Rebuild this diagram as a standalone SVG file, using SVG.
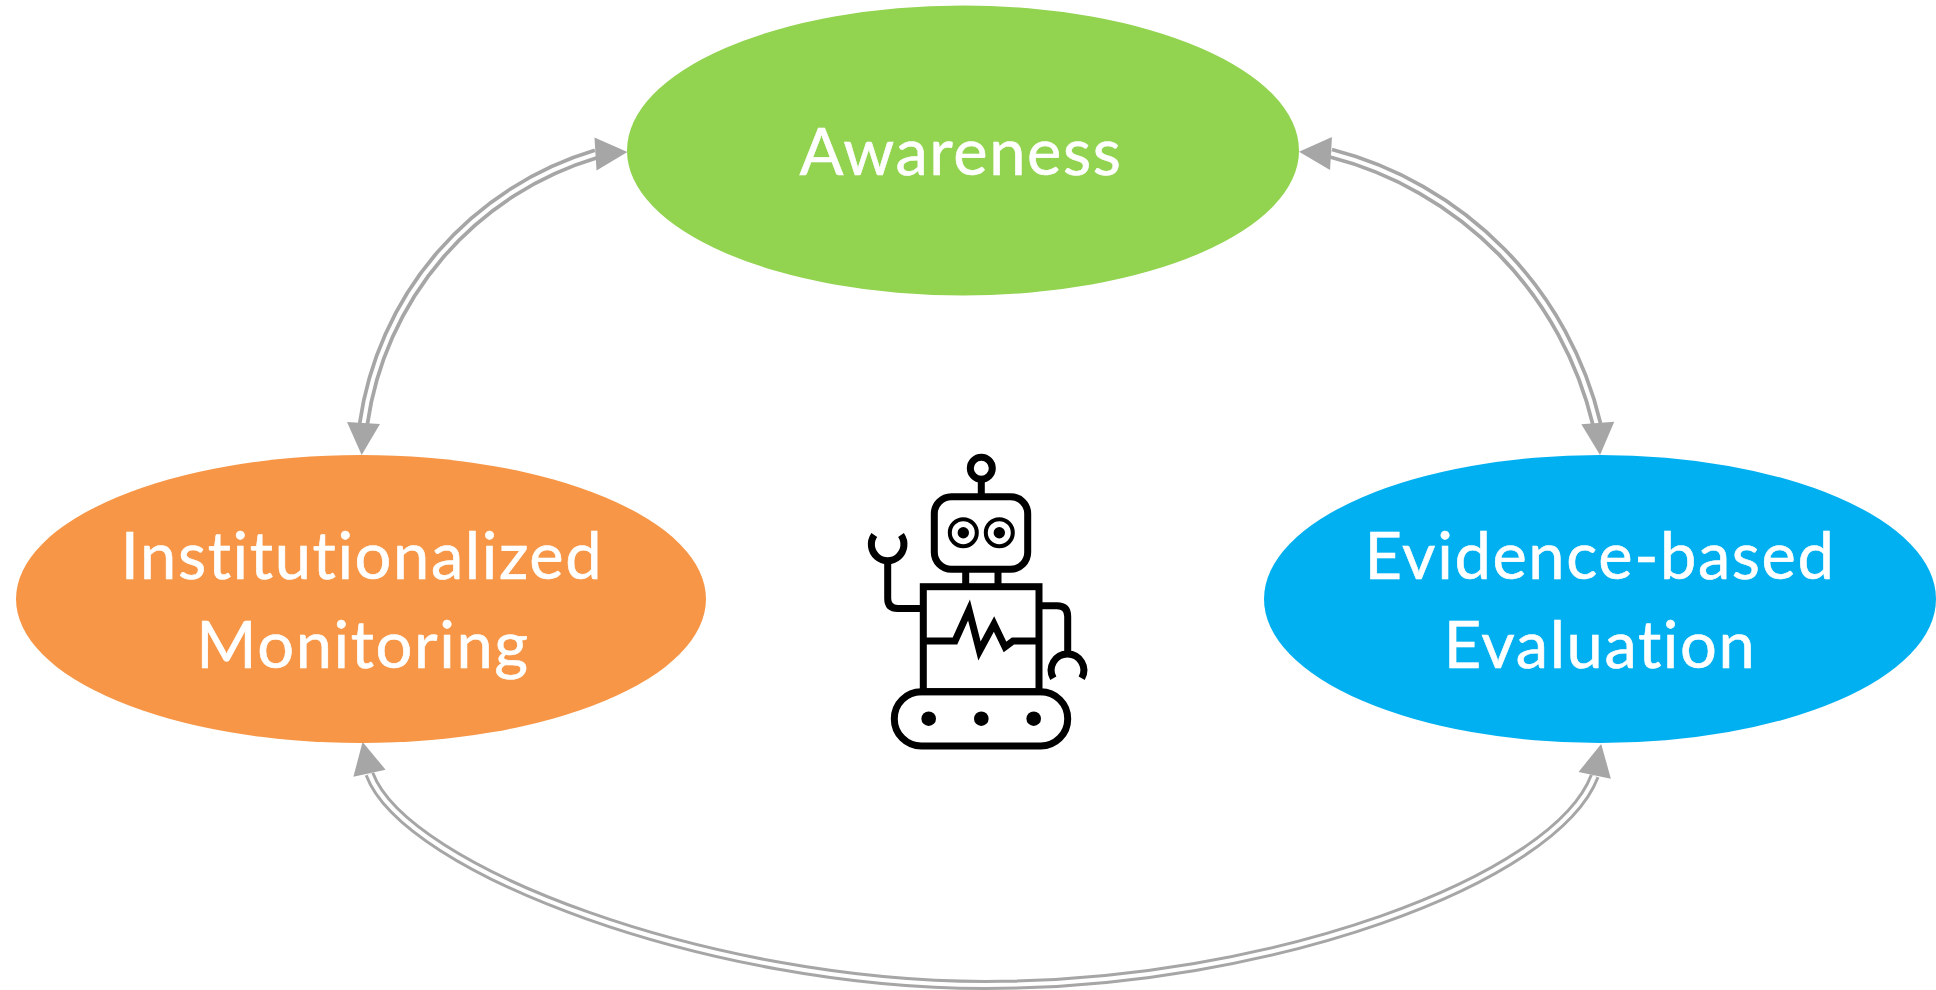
<svg xmlns="http://www.w3.org/2000/svg" width="1936" height="990" viewBox="0 0 1936 990">
<style>
.label{font-family:Lato,"Noto Sans",sans-serif;font-size:65px;letter-spacing:1.6px;font-variant-ligatures:none;fill:#fff;stroke:#fff;stroke-width:.6px;text-anchor:middle}
.outer{fill:none;stroke:#A6A6A6;stroke-width:11.500}
.outer.low{stroke-width:10}
.inner{fill:none;stroke:#fff;stroke-width:4}
.head{fill:#A6A6A6}
.rb{fill:none;stroke:#000;stroke-width:7}
.rbf{fill:#000}
.eye{fill:none;stroke:#000;stroke-width:4}
</style>
<defs>
<path id="tri" d="M0 -16.500L32 0L0 16.500Z"/>
<path id="c1" d="M363.500 424A330 330 0 0 1 596 154"/>
<path id="c2" d="M1331 153.300A367 367 0 0 1 1596.700 424"/>
<path id="c3" d="M369.500 774C405 870 710 985 985 985C1270 985 1555 880 1594.700 776"/>
</defs>
<rect width="1936" height="990" fill="#fff"/>
<g id="connectors">
<use href="#c1" class="outer"/>
<use href="#c1" class="inner"/>
<use href="#c2" class="outer"/>
<use href="#c2" class="inner"/>
<use href="#c3" class="outer low"/>
<use href="#c3" class="inner"/>
<use href="#tri" class="head" transform="translate(595.500 154) rotate(-3.600)"/>
<use href="#tri" class="head" transform="translate(363.500 423) rotate(93.300)"/>
<use href="#tri" class="head" transform="translate(1331 153.500) rotate(183.300)"/>
<use href="#tri" class="head" transform="translate(1597.800 423) rotate(86)"/>
<use href="#tri" class="head" transform="translate(369.500 773.300) rotate(257.500)"/>
<use href="#tri" class="head" transform="translate(1594.700 775.300) rotate(-78.300)"/>
</g>
<g id="node-awareness">
<ellipse cx="963" cy="150.500" rx="336" ry="145" fill="#92D350"/>
<text class="label" x="961" y="175">Awareness</text>
</g>
<g id="node-monitoring">
<ellipse cx="361" cy="599" rx="345" ry="144" fill="#F79646"/>
<text class="label" x="362" y="579">Institutionalized</text>
<text class="label" x="363" y="668">Monitoring</text>
</g>
<g id="node-evaluation">
<ellipse cx="1600" cy="599" rx="336" ry="144" fill="#00B0F0"/>
<text class="label" x="1600" y="579">Evidence-based</text>
<text class="label" x="1600" y="668">Evaluation</text>
</g>
<g id="node-robot">
<circle class="rb" cx="981.300" cy="468.300" r="11"/>
<path class="rb" d="M981.300 480V497"/>
<rect class="rb" x="934.300" y="496.700" width="93.400" height="72.600" rx="17"/>
<circle class="eye" cx="963.300" cy="532.700" r="13.500"/>
<circle class="eye" cx="999.300" cy="532.700" r="13.500"/>
<circle class="rbf" cx="963.300" cy="532.700" r="5.700"/>
<circle class="rbf" cx="999.300" cy="532.700" r="5.700"/>
<path class="rb" d="M965.700 569V587M998 569V587"/>
<rect class="rb" x="923.300" y="586.700" width="115.700" height="105"/>
<path class="rb" d="M923.300 641H955L969 610L979.500 651L994 624L1005 647L1013 641H1039"/>
<rect class="rb" x="894.300" y="691.700" width="173.400" height="54.300" rx="27"/>
<circle class="rbf" cx="928.700" cy="718.700" r="7.300"/>
<circle class="rbf" cx="981.300" cy="718.700" r="7.300"/>
<circle class="rbf" cx="1033.700" cy="718.700" r="7.300"/>
<path class="rb" d="M923.300 608.500H897.700Q887.700 608.500 887.700 598.500V563"/>
<path class="rb" d="M874.300 535A16.300 16.300 0 1 0 901 535"/>
<path class="rb" d="M1039 605.700H1057Q1067.700 605.700 1067.700 616.400V652"/>
<path class="rb" d="M1053.300 678.300A16.300 16.300 0 1 1 1081.700 678.300"/>
</g>
</svg>
